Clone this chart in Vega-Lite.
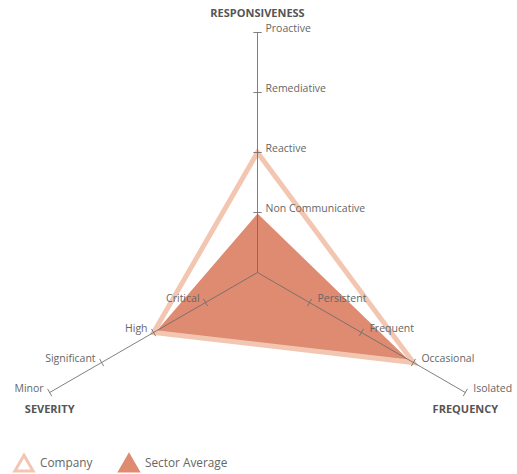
{
  "$schema": "https://vega.github.io/schema/vega-lite/v6.json",
  "width": 517,
  "height": 474,
  "padding": 0,
  "autosize": {"type": "fit", "contains": "padding"},
  "background": "white",
  "config": {"view": {"stroke": null}, "font": "Open Sans"},
  "resolve": {"legend": {"color": "independent"}},
  "datasets": {
    "levels": [
      {"axisIndex": 0, "level": 1, "label": "Non Communicative"},
      {"axisIndex": 0, "level": 2, "label": "Reactive"},
      {"axisIndex": 0, "level": 3, "label": "Remediative"},
      {"axisIndex": 0, "level": 4, "label": "Proactive"},
      {"axisIndex": 1, "level": 1, "label": "Persistent"},
      {"axisIndex": 1, "level": 2, "label": "Frequent"},
      {"axisIndex": 1, "level": 3, "label": "Occasional"},
      {"axisIndex": 1, "level": 4, "label": "Isolated"},
      {"axisIndex": 2, "level": 1, "label": "Critical"},
      {"axisIndex": 2, "level": 2, "label": "High"},
      {"axisIndex": 2, "level": 3, "label": "Significant"},
      {"axisIndex": 2, "level": 4, "label": "Minor"}
    ],
    "scores": [
      {"series": "Company", "axis": "Responsiveness", "axisIndex": 0, "value": 2},
      {"series": "Company", "axis": "Frequency", "axisIndex": 1, "value": 3},
      {"series": "Company", "axis": "Severity", "axisIndex": 2, "value": 2},
      {"series": "Sector Average", "axis": "Responsiveness", "axisIndex": 0, "value": 1},
      {"series": "Sector Average", "axis": "Frequency", "axisIndex": 1, "value": 2.95},
      {"series": "Sector Average", "axis": "Severity", "axisIndex": 2, "value": 1.97}
    ],
    "titles": [
      {"axisIndex": 0, "title": "RESPONSIVENESS"},
      {"axisIndex": 1, "title": "FREQUENCY"},
      {"axisIndex": 2, "title": "SEVERITY"}
    ]
  },
  "layer": [
    {
      "data": {"name": "scores"},
      "transform": [
        {"filter": "datum.series === 'Sector Average'"},
        {"calculate": "datum.axisIndex * 2 * PI / 3", "as": "a"},
        {"calculate": "datum.value * sin(datum.a)", "as": "px"},
        {"calculate": "datum.value * cos(datum.a)", "as": "py"}
      ],
      "mark": {"type": "line", "interpolate": "linear-closed", "filled": true, "stroke": "white", "strokeWidth": 1.5, "strokeJoin": "miter"},
      "encoding": {
        "x": {"field": "px", "type": "quantitative", "scale": {"domain": [-4.2917, 4.325], "nice": false, "zero": false}, "axis": null},
        "y": {"field": "py", "type": "quantitative", "scale": {"domain": [-3.3583, 4.5417], "nice": false, "zero": false}, "axis": null},
        "order": {"field": "axisIndex"},
        "color": {"field": "series", "type": "nominal", "scale": {"domain": ["Company", "Sector Average"], "range": ["#f3c6b2", "#de8b71"]}, "legend": null}
      }
    },
    {
      "data": {"name": "scores"},
      "transform": [
        {"filter": "datum.series === 'Company'"},
        {"calculate": "datum.axisIndex * 2 * PI / 3", "as": "a"},
        {"calculate": "datum.value * sin(datum.a)", "as": "px"},
        {"calculate": "datum.value * cos(datum.a)", "as": "py"}
      ],
      "mark": {"type": "line", "interpolate": "linear-closed", "strokeWidth": 5, "strokeJoin": "miter"},
      "encoding": {
        "x": {"field": "px", "type": "quantitative", "scale": {"domain": [-4.2917, 4.325], "nice": false, "zero": false}, "axis": null},
        "y": {"field": "py", "type": "quantitative", "scale": {"domain": [-3.3583, 4.5417], "nice": false, "zero": false}, "axis": null},
        "order": {"field": "axisIndex"},
        "color": {
          "field": "series", "type": "nominal",
          "scale": {"domain": ["Company", "Sector Average"], "range": ["#f3c6b2", "#de8b71"]},
          "legend": {
            "orient": "none", "legendX": 13, "legendY": 452, "direction": "horizontal", "title": null,
            "symbolType": "triangle-up", "symbolSize": 330, "symbolStrokeWidth": 3,
            "labelFont": "Open Sans", "labelFontSize": 11.8, "labelColor": "#666666", "labelOffset": 5,
            "columnPadding": 20,
            "encode": {
              "symbols": {
                "update": {
                  "size": {"value": 330},
                  "shape": {"value": "triangle-up"},
                  "fill": {"signal": "datum.value === 'Company' ? '#ffffff' : '#de8b71'"},
                  "stroke": {"signal": "datum.value === 'Company' ? '#f3c6b2' : '#de8b71'"},
                  "strokeWidth": {"value": 3},
                  "opacity": {"value": 1}
                }
              }
            }
          }
        }
      }
    },
    {
      "data": {"name": "levels"},
      "transform": [
        {"filter": "datum.level === 4"},
        {"calculate": "datum.axisIndex * 2 * PI / 3", "as": "a"},
        {"calculate": "datum.level * sin(datum.a)", "as": "px"},
        {"calculate": "datum.level * cos(datum.a)", "as": "py"}
      ],
      "mark": {"type": "rule", "color": "#6b6b6b", "strokeWidth": 1, "opacity": 0.85},
      "encoding": {
        "x": {"field": "px", "type": "quantitative", "scale": {"domain": [-4.2917, 4.325], "nice": false, "zero": false}, "axis": null},
        "y": {"field": "py", "type": "quantitative", "scale": {"domain": [-3.3583, 4.5417], "nice": false, "zero": false}, "axis": null},
        "x2": {"datum": 0},
        "y2": {"datum": 0}
      }
    },
    {
      "data": {"name": "levels"},
      "transform": [
        {"calculate": "datum.axisIndex * 2 * PI / 3", "as": "a"},
        {"calculate": "datum.level * sin(datum.a) + 0.07 * cos(datum.a)", "as": "x1"},
        {"calculate": "datum.level * cos(datum.a) - 0.07 * sin(datum.a)", "as": "y1"},
        {"calculate": "datum.level * sin(datum.a) - 0.07 * cos(datum.a)", "as": "x2"},
        {"calculate": "datum.level * cos(datum.a) + 0.07 * sin(datum.a)", "as": "y2"}
      ],
      "mark": {"type": "rule", "color": "#6b6b6b", "strokeWidth": 1, "opacity": 0.85},
      "encoding": {
        "x": {"field": "x1", "type": "quantitative", "scale": {"domain": [-4.2917, 4.325], "nice": false, "zero": false}, "axis": null},
        "y": {"field": "y1", "type": "quantitative", "scale": {"domain": [-3.3583, 4.5417], "nice": false, "zero": false}, "axis": null},
        "x2": {"field": "x2"},
        "y2": {"field": "y2"}
      }
    },
    {
      "data": {"name": "levels"},
      "transform": [
        {"filter": "datum.axisIndex < 2"},
        {"calculate": "datum.axisIndex * 2 * PI / 3", "as": "a"},
        {"calculate": "datum.level * sin(datum.a)", "as": "px"},
        {"calculate": "datum.level * cos(datum.a)", "as": "py"}
      ],
      "mark": {"type": "text", "align": "left", "baseline": "middle", "dx": 8, "dy": -4, "font": "Open Sans", "fontSize": 10.5, "color": "#666666"},
      "encoding": {
        "x": {"field": "px", "type": "quantitative", "scale": {"domain": [-4.2917, 4.325], "nice": false, "zero": false}, "axis": null},
        "y": {"field": "py", "type": "quantitative", "scale": {"domain": [-3.3583, 4.5417], "nice": false, "zero": false}, "axis": null},
        "text": {"field": "label"}
      }
    },
    {
      "data": {"name": "levels"},
      "transform": [
        {"filter": "datum.axisIndex === 2"},
        {"calculate": "datum.axisIndex * 2 * PI / 3", "as": "a"},
        {"calculate": "datum.level * sin(datum.a)", "as": "px"},
        {"calculate": "datum.level * cos(datum.a)", "as": "py"}
      ],
      "mark": {"type": "text", "align": "right", "baseline": "middle", "dx": -6, "dy": -4, "font": "Open Sans", "fontSize": 10.5, "color": "#666666"},
      "encoding": {
        "x": {"field": "px", "type": "quantitative", "scale": {"domain": [-4.2917, 4.325], "nice": false, "zero": false}, "axis": null},
        "y": {"field": "py", "type": "quantitative", "scale": {"domain": [-3.3583, 4.5417], "nice": false, "zero": false}, "axis": null},
        "text": {"field": "label"}
      }
    },
    {
      "data": {"name": "titles"},
      "transform": [
        {"filter": "datum.axisIndex === 0"},
        {"calculate": "datum.axisIndex * 2 * PI / 3", "as": "a"},
        {"calculate": "4 * sin(datum.a)", "as": "px"},
        {"calculate": "4 * cos(datum.a)", "as": "py"}
      ],
      "mark": {"type": "text", "align": "center", "baseline": "middle", "dy": -19, "font": "Open Sans", "fontSize": 11, "fontWeight": "bold", "color": "#555555"},
      "encoding": {
        "x": {"field": "px", "type": "quantitative", "scale": {"domain": [-4.2917, 4.325], "nice": false, "zero": false}, "axis": null},
        "y": {"field": "py", "type": "quantitative", "scale": {"domain": [-3.3583, 4.5417], "nice": false, "zero": false}, "axis": null},
        "text": {"field": "title"}
      }
    },
    {
      "data": {"name": "titles"},
      "transform": [
        {"filter": "datum.axisIndex > 0"},
        {"calculate": "datum.axisIndex * 2 * PI / 3", "as": "a"},
        {"calculate": "4 * sin(datum.a)", "as": "px"},
        {"calculate": "4 * cos(datum.a)", "as": "py"}
      ],
      "mark": {"type": "text", "align": "center", "baseline": "middle", "dy": 17, "font": "Open Sans", "fontSize": 11, "fontWeight": "bold", "color": "#555555"},
      "encoding": {
        "x": {"field": "px", "type": "quantitative", "scale": {"domain": [-4.2917, 4.325], "nice": false, "zero": false}, "axis": null},
        "y": {"field": "py", "type": "quantitative", "scale": {"domain": [-3.3583, 4.5417], "nice": false, "zero": false}, "axis": null},
        "text": {"field": "title"}
      }
    }
  ]
}
